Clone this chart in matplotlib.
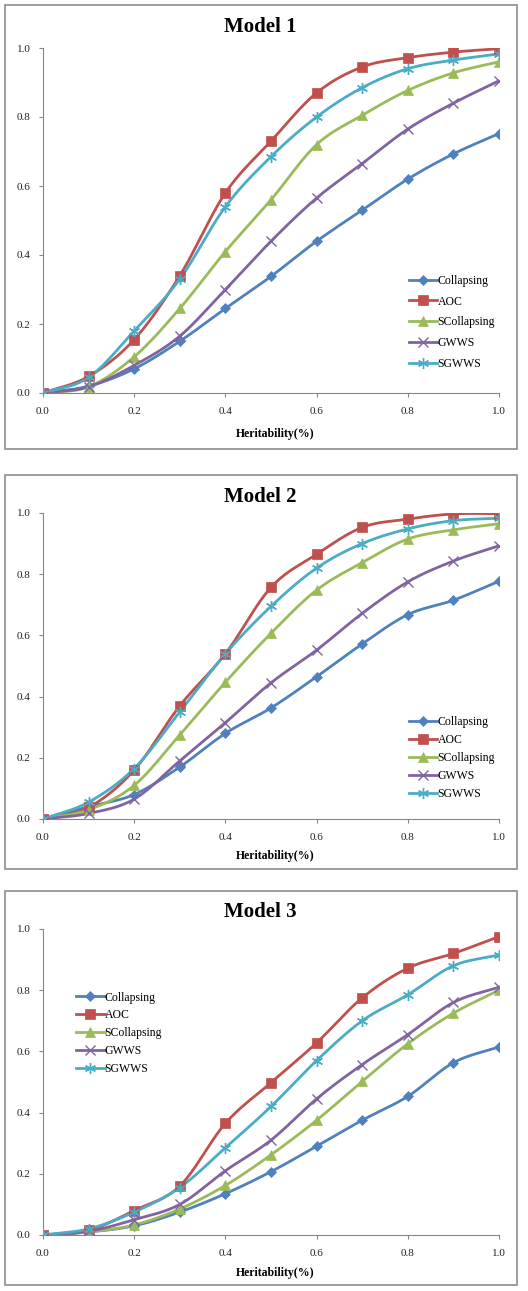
import numpy as np
import matplotlib
matplotlib.use('Agg')
import matplotlib.pyplot as plt
from matplotlib.patches import Rectangle

plt.rcParams['font.family'] = ['Liberation Serif', 'DejaVu Serif']

# heritability levels
h = [0.0, 0.1, 0.2, 0.3, 0.4, 0.5, 0.6, 0.7, 0.8, 0.9, 1.0]
names = ['Collapsing', 'AOC', 'SCollapsing', 'GWWS', 'SGWWS']

# Model 1
m1_collapsing = [0, 0.020, 0.070, 0.150, 0.245, 0.338, 0.440, 0.530, 0.620, 0.693, 0.752]
m1_aoc = [0, 0.048, 0.155, 0.340, 0.580, 0.730, 0.870, 0.945, 0.972, 0.988, 0.998]
m1_scollapsing = [0, 0.018, 0.105, 0.245, 0.410, 0.560, 0.720, 0.805, 0.877, 0.928, 0.960]
m1_gwws = [0, 0.018, 0.080, 0.165, 0.300, 0.440, 0.565, 0.665, 0.765, 0.840, 0.905]
m1_sgwws = [0, 0.045, 0.180, 0.330, 0.540, 0.685, 0.800, 0.885, 0.940, 0.965, 0.983]

# Model 2
m2_collapsing = [0, 0.040, 0.080, 0.170, 0.280, 0.363, 0.465, 0.572, 0.668, 0.715, 0.777]
m2_aoc = [0, 0.038, 0.160, 0.370, 0.540, 0.757, 0.865, 0.953, 0.980, 0.997, 0.998]
m2_scollapsing = [0, 0.030, 0.110, 0.275, 0.447, 0.607, 0.748, 0.838, 0.915, 0.945, 0.965]
m2_gwws = [0, 0.018, 0.065, 0.190, 0.315, 0.445, 0.552, 0.672, 0.775, 0.843, 0.893]
m2_sgwws = [0, 0.055, 0.165, 0.350, 0.540, 0.695, 0.820, 0.900, 0.948, 0.975, 0.983]

# Model 3
m3_collapsing = [0, 0.010, 0.030, 0.075, 0.135, 0.207, 0.290, 0.375, 0.453, 0.563, 0.615]
m3_aoc = [0, 0.015, 0.080, 0.160, 0.365, 0.498, 0.628, 0.775, 0.872, 0.920, 0.975]
m3_scollapsing = [0, 0.010, 0.033, 0.085, 0.162, 0.262, 0.375, 0.502, 0.625, 0.725, 0.800]
m3_gwws = [0, 0.012, 0.050, 0.100, 0.210, 0.310, 0.445, 0.557, 0.655, 0.760, 0.810]
m3_sgwws = [0, 0.020, 0.075, 0.155, 0.285, 0.420, 0.570, 0.700, 0.785, 0.880, 0.915]

models = [
    ('Model 1', [m1_collapsing, m1_aoc, m1_scollapsing, m1_gwws, m1_sgwws]),
    ('Model 2', [m2_collapsing, m2_aoc, m2_scollapsing, m2_gwws, m2_sgwws]),
    ('Model 3', [m3_collapsing, m3_aoc, m3_scollapsing, m3_gwws, m3_sgwws]),
]

colors = ['#4F81BD', '#C0504D', '#9BBB59', '#8064A2', '#4BACC6']
markers = ['D', 's', '^', 'x', (6, 2, 0)]
msizes = [5, 7, 7, 7, 8]


def smooth(x, y, n=20):
    # catmull-rom curve through the points, like excel's smoothed lines
    x = np.asarray(x, float)
    y = np.asarray(y, float)
    px = np.concatenate([[2 * x[0] - x[1]], x, [2 * x[-1] - x[-2]]])
    py = np.concatenate([[2 * y[0] - y[1]], y, [2 * y[-1] - y[-2]]])
    t = np.linspace(0, 1, n, endpoint=False)
    xs, ys = [], []
    for i in range(1, len(px) - 2):
        for p, out in ((px, xs), (py, ys)):
            p0, p1, p2, p3 = p[i - 1], p[i], p[i + 1], p[i + 2]
            out.extend(0.5 * (2 * p1 + (-p0 + p2) * t + (2 * p0 - 5 * p1 + 4 * p2 - p3) * t ** 2
                              + (-p0 + 3 * p1 - 3 * p2 + p3) * t ** 3))
    xs.append(x[-1])
    ys.append(y[-1])
    return np.array(xs), np.array(ys)


fig = plt.figure(figsize=(5.28, 12.91), dpi=100)
W, H = 528., 1291.

# panel boxes (pixels: top, bottom) and axes (pixels: top, bottom)
boxes = [(5, 449), (475, 869), (891, 1285)]
axes_px = [(48, 393), (513, 819), (929, 1235)]
titles_y = [27, 497, 912]
xlabels_y = [434, 856, 1273]
legend_pos = [(0.79, 0.36), (0.79, 0.355), (0.06, 0.815)]
legend_sp = [0.75, 0.5, 0.5]

for k, (title, series) in enumerate(models):
    bt, bb = boxes[k]
    fig.add_artist(Rectangle((5 / W, 1 - bb / H), 512 / W, (bb - bt) / H, transform=fig.transFigure,
                             fill=False, edgecolor='#8c8c8c', linewidth=1.2))
    at, ab = axes_px[k]
    ax = fig.add_axes([43 / W, 1 - ab / H, 456 / W, (ab - at) / H])
    for s, name, c, m, ms in zip(series, names, colors, markers, msizes):
        sx, sy = smooth(h, s)
        mew = 1.0 if m in ('x', (6, 2, 0)) else 0.5
        ax.plot(sx, sy, color=c, linewidth=2.0, zorder=2)
        ax.plot(h, s, linestyle='none', marker=m, color=c, markersize=ms, markeredgewidth=mew, zorder=3)
        ax.plot([], [], color=c, linewidth=2.0, marker=m, markersize=ms, markeredgewidth=mew, label=name)
    ax.set_xlim(0, 1.0)
    ax.set_ylim(0, 1.0)
    ax.set_xticks(np.arange(0, 1.01, 0.2))
    ax.set_yticks(np.arange(0, 1.01, 0.2))
    ax.xaxis.set_major_formatter(matplotlib.ticker.FormatStrFormatter('%.1f'))
    ax.yaxis.set_major_formatter(matplotlib.ticker.FormatStrFormatter('%.1f'))
    for sp in ('top', 'right'):
        ax.spines[sp].set_visible(False)
    for sp in ('left', 'bottom'):
        ax.spines[sp].set_color('#868686')
        ax.spines[sp].set_linewidth(0.8)
    ax.tick_params(labelsize=8, colors='#868686', labelcolor='#222222', length=3, width=0.8)
    ax.tick_params(axis='x', pad=7)
    ax.tick_params(axis='y', pad=6)
    ax.legend(loc='upper left', bbox_to_anchor=legend_pos[k], frameon=False, fontsize=8.5, handlelength=2.4,
              handletextpad=0.0, labelspacing=legend_sp[k], borderpad=0, numpoints=1)
    fig.text(260 / W, 1 - titles_y[k] / H, title, ha='center', va='center', fontsize=15, fontweight='bold')
    fig.text(275 / W, 1 - xlabels_y[k] / H, 'Heritability(%)', ha='center', va='center', fontsize=8.5,
             fontweight='bold')

fig.savefig('out.png', dpi=100, facecolor='white')
